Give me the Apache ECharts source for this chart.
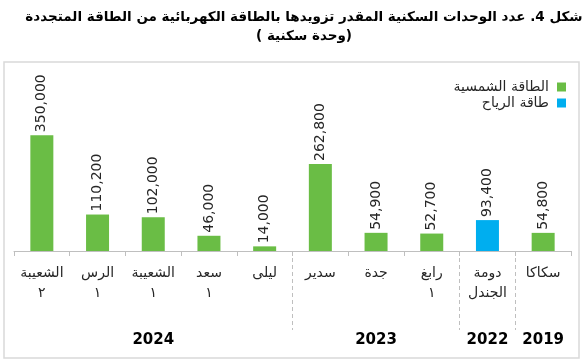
<!DOCTYPE html>
<html>
<head>
<meta charset="utf-8">
<script src="https://cdn.jsdelivr.net/npm/echarts@6/dist/echarts.min.js"></script>
<style>
html,body{margin:0;padding:0;background:#fff;}
#c{width:584px;height:364px;}
</style>
</head>
<body>
<div id="c"></div>
<script>
// Data (left to right as shown)
const categories = ['الشعيبة\n٢','الرس\n١','الشعيبة\n١','سعد\n١','ليلى','سدير','جدة','رابغ\n١','دومة\nالجندل','سكاكا'];
const solarValues = [350000,110200,102000,46000,14000,262800,54900,52700,null,54800];
const windValues  = [null,null,null,null,null,null,null,null,93400,null];
const yearLabels = ['2024','2023','2022','2019'];
const yearGroupSizes = [5,3,1,1];
const seriesNames = ['الطاقة الشمسية','طاقة الرياح'];
const titleLines = ['شكل 4. عدد الوحدات السكنية المقدر تزويدها بالطاقة الكهربائية من الطاقة المتجددة', '(وحدة سكنية )'];

// build group label per category (center of group) and boundaries
const groupLabelPerCat = [];
const boundaryIdx = [0];
let acc = 0;
yearGroupSizes.forEach((n, g) => {
  for (let k = 0; k < n; k++) groupLabelPerCat.push(k === Math.floor(n / 2) ? yearLabels[g] : '');
  acc += n;
  if (acc < categories.length) boundaryIdx.push(acc);
});
// render each title line in a right-to-left embedding
const titleText = titleLines.map(s => '\u202B' + s + '\u202C').join('\n');

const AR = 'DejaVu Sans';
const GREEN = '#6abd45';
const BLUE = '#00aeef';

const chart = echarts.init(document.getElementById('c'));
const labelCfg = {
  show: true, position: 'top', rotate: 90, align: 'left', verticalAlign: 'middle',
  distance: 3, color: '#262626', fontSize: 14, fontFamily: AR,
  formatter: p => Number(p.value).toLocaleString('en-US')
};
chart.setOption({
  animation: false,
  backgroundColor: '#fff',
  title: {
    text: titleText, left: 299, textAlign: 'center', top: 3,
    textStyle: {fontFamily: AR, fontWeight: 'bold', fontSize: 13.5, lineHeight: 19, color: '#000'}
  },
  graphic: [{
    type: 'rect', shape: {x: 4, y: 62, width: 575, height: 296},
    style: {fill: 'none', stroke: '#d9d9d9', lineWidth: 1.5}, silent: true
  }],
  legend: {
    orient: 'vertical', right: 13, top: 75, align: 'right',
    itemWidth: 9, itemHeight: 9, itemGap: 2, icon: 'rect',
    textStyle: {fontFamily: AR, fontSize: 14, color: '#262626', padding: [0, 3, 0, 0]},
    data: seriesNames
  },
  grid: [
    {left: 14, right: 13, top: 65, bottom: 113},
    {left: 14, right: 13, top: 251, bottom: 34}
  ],
  xAxis: [{
    gridIndex: 0, type: 'category', data: categories,
    axisLine: {lineStyle: {color: '#bfbfbf', width: 1}},
    axisTick: {show: true, length: 5, lineStyle: {color: '#bfbfbf'}},
    axisLabel: {interval: 0, margin: 12, color: '#262626', fontSize: 14, fontFamily: AR, lineHeight: 20}
  }, {
    gridIndex: 1, type: 'category', data: categories,
    axisLine: {show: false}, axisTick: {show: false},
    axisLabel: {interval: 0, margin: 3, color: '#000', fontSize: 15, fontWeight: 'bold', fontFamily: AR,
      formatter: (v, i) => groupLabelPerCat[i]},
    splitLine: {show: true, showMinLine: false, showMaxLine: false,
      interval: i => boundaryIdx.indexOf(i) >= 0,
      lineStyle: {color: '#bfbfbf', type: [4, 3], width: 1}}
  }],
  yAxis: [
    {gridIndex: 0, type: 'value', min: 0, max: 562000, show: false, splitLine: {show: false}},
    {gridIndex: 1, type: 'value', show: false, splitLine: {show: false}}
  ],
  series: [{
    name: seriesNames[0], type: 'bar', stack: 's', barWidth: 23, data: solarValues,
    itemStyle: {color: GREEN}, label: labelCfg
  }, {
    name: seriesNames[1], type: 'bar', stack: 's', barWidth: 23, data: windValues,
    itemStyle: {color: BLUE}, label: labelCfg
  }]
});
</script>
</body>
</html>
